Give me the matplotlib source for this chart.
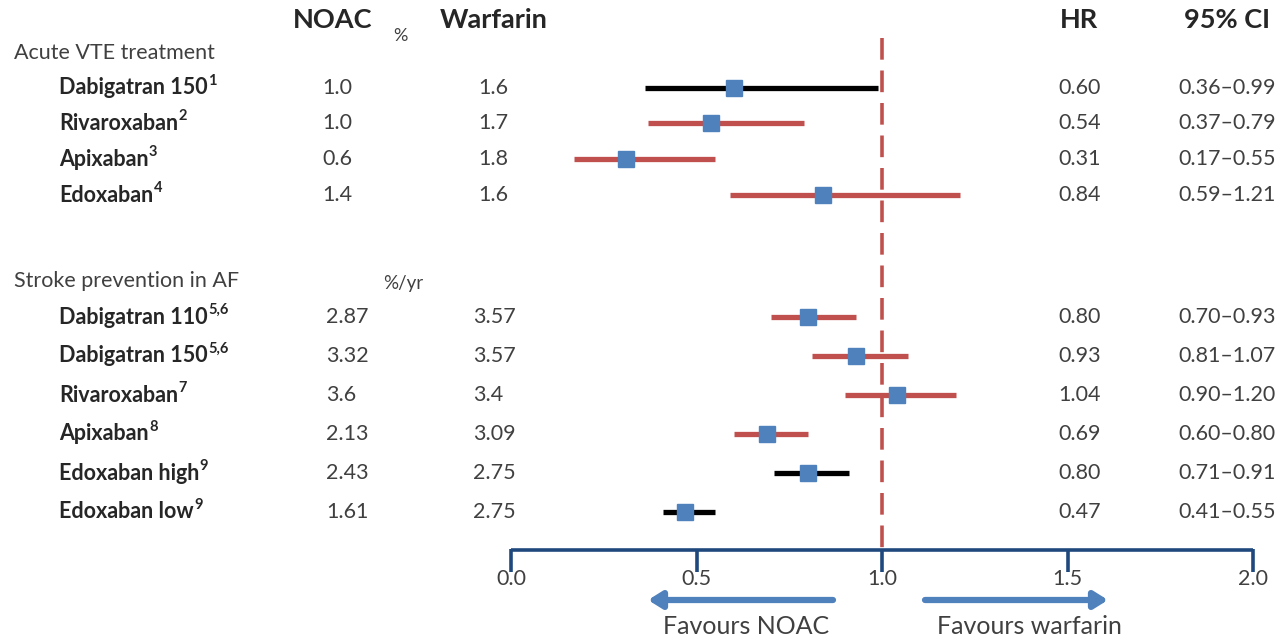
import matplotlib
matplotlib.use("Agg")
import matplotlib.pyplot as plt

plt.rcParams['font.family'] = ['Lato', 'DejaVu Sans']

# ---- data ----
vte_names = ['Dabigatran 150', 'Rivaroxaban', 'Apixaban', 'Edoxaban']
vte_refs = ['1', '2', '3', '4']
vte_noac = ['1.0', '1.0', '0.6', '1.4']
vte_warf = ['1.6', '1.7', '1.8', '1.6']
vte_hr = [0.60, 0.54, 0.31, 0.84]
vte_lo = [0.36, 0.37, 0.17, 0.59]
vte_hi = [0.99, 0.79, 0.55, 1.21]
vte_bar = ['black', 'red', 'red', 'red']

af_names = ['Dabigatran 110', 'Dabigatran 150', 'Rivaroxaban', 'Apixaban',
            'Edoxaban high', 'Edoxaban low']
af_refs = ['5,6', '5,6', '7', '8', '9', '9']
af_noac = ['2.87', '3.32', '3.6', '2.13', '2.43', '1.61']
af_warf = ['3.57', '3.57', '3.4', '3.09', '2.75', '2.75']
af_hr = [0.80, 0.93, 1.04, 0.69, 0.80, 0.47]
af_lo = [0.70, 0.81, 0.90, 0.60, 0.71, 0.41]
af_hi = [0.93, 1.07, 1.20, 0.80, 0.91, 0.55]
af_bar = ['red', 'red', 'red', 'red', 'black', 'black']

ticks = [0.0, 0.5, 1.0, 1.5, 2.0]

# ---- layout / style ----
RED = '#C0504D'
BLUE = '#4F81BD'
NAVY = '#1F497D'
GREY = '#404040'
bar_colors = {'red': RED, 'black': 'black'}

vte_y = [88, 123, 159, 195]
af_y = [317, 356, 395, 434, 473, 512]
FS = 15.5


def X(px):
    # pixel column -> data x (0 at 511 px, 2 at 1253 px)
    return (px - 511) / 371.0


fig = plt.figure(figsize=(12.8, 6.41), dpi=100)
ax = fig.add_axes([0, 0, 1, 1])
ax.set_xlim(X(0), X(1280))
ax.set_ylim(641, 0)
ax.axis('off')

# headers
hdr = dict(fontsize=19.5, fontweight='bold', color='#262626', ha='center', va='center')
ax.text(X(333), 20, 'NOAC', **hdr)
ax.text(X(494), 20, 'Warfarin', **hdr)
ax.text(X(1079), 20, 'HR', **hdr)
ax.text(X(1227), 20, '95% CI', **hdr)
ax.text(X(400), 36, '%', fontsize=13, color=GREY, ha='center', va='center')
ax.text(X(14), 53, 'Acute VTE treatment', fontsize=FS, color=GREY, va='center')
ax.text(X(14), 281, 'Stroke prevention in AF', fontsize=FS, color=GREY, va='center')
ax.text(X(403), 283, '%/yr', fontsize=13.5, color=GREY, ha='center', va='center')

# reference line
ax.plot([1.0, 1.0], [38, 550], color=RED, lw=2.6, dashes=(6, 3), zorder=1)


def draw_rows(ys, names, refs, noac, warf, hr, lo, hi, bars, noac_x, warf_x, ha):
    for i, y in enumerate(ys):
        t = ax.text(X(59), y, names[i], fontsize=FS, fontweight='bold',
                    color='#262626', va='center')
        ax.annotate(refs[i], xy=(1, 1), xycoords=t, xytext=(0.3, 2.5),
                    textcoords='offset points', fontsize=10.5, fontweight='bold',
                    color='#262626', va='top', ha='left')
        ax.text(X(noac_x), y, noac[i], fontsize=FS, color=GREY, ha=ha, va='center')
        ax.text(X(warf_x), y, warf[i], fontsize=FS, color=GREY, ha=ha, va='center')
        ax.text(X(1080), y, f'{hr[i]:.2f}', fontsize=FS, color=GREY,
                ha='center', va='center')
        ax.text(X(1227), y, f'{lo[i]:.2f}\u2013{hi[i]:.2f}', fontsize=FS,
                color=GREY, ha='center', va='center')
        ax.plot([lo[i], hi[i]], [y, y], color=bar_colors[bars[i]], lw=3.8,
                solid_capstyle='butt', zorder=2)
        ax.plot(hr[i], y, marker='s', ms=12, color=BLUE, mec=BLUE, zorder=3)


draw_rows(vte_y, vte_names, vte_refs, vte_noac, vte_warf, vte_hr, vte_lo,
          vte_hi, vte_bar, 337, 493, 'center')
draw_rows(af_y, af_names, af_refs, af_noac, af_warf, af_hr, af_lo,
          af_hi, af_bar, 326, 473, 'left')

# x axis
ax.plot([ticks[0], ticks[-1]], [550, 550], color=NAVY, lw=2.6,
        solid_capstyle='butt', zorder=2)
for tk in ticks:
    ax.plot([tk, tk], [549, 572], color=NAVY, lw=2.6, solid_capstyle='butt')
    ax.text(tk, 579, f'{tk:.1f}', fontsize=FS, color=GREY, ha='center', va='center')

# direction arrows
arrow = dict(arrowstyle='-|>,head_length=0.8,head_width=0.5', color=BLUE,
             lw=4.5, shrinkA=0, shrinkB=0)
ax.annotate('', xy=(X(648), 600), xytext=(X(833), 600), arrowprops=arrow)
ax.annotate('', xy=(X(1108), 600), xytext=(X(925), 600), arrowprops=arrow)
ax.text(X(746), 627, 'Favours NOAC', fontsize=18, color=GREY, ha='center', va='center')
ax.text(X(1029), 627, 'Favours warfarin', fontsize=18, color=GREY, ha='center', va='center')

fig.savefig('out.png', dpi=100)
